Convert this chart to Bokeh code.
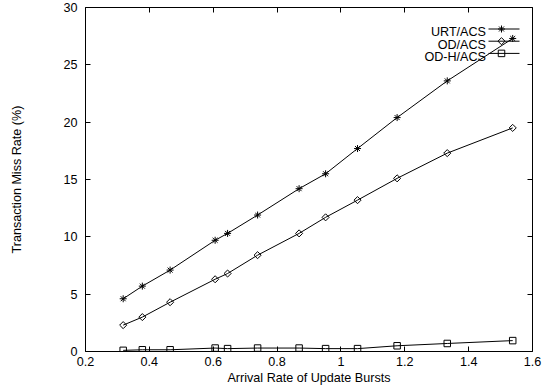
import math
from bokeh.plotting import figure
from bokeh.models import Range1d, LinearAxis, FixedTicker, Label, GlobalInlineStyleSheet
from bokeh.embed import file_html
from bokeh.resources import INLINE

# ---- data ----
rate = [0.318, 0.378, 0.465, 0.606, 0.645, 0.739, 0.869, 0.952, 1.052, 1.176, 1.333, 1.538]
urt_acs = [4.6, 5.7, 7.1, 9.7, 10.3, 11.9, 14.2, 15.5, 17.7, 20.4, 23.6, 27.3]
od_acs = [2.3, 3.0, 4.3, 6.3, 6.8, 8.4, 10.3, 11.7, 13.2, 15.1, 17.3, 19.5]
odh_acs = [0.1, 0.15, 0.15, 0.3, 0.25, 0.3, 0.3, 0.25, 0.25, 0.5, 0.7, 0.95]
series_names = ["URT/ACS", "OD/ACS", "OD-H/ACS"]
x_ticks = [0.2, 0.4, 0.6, 0.8, 1.0, 1.2, 1.4, 1.6]
x_tick_labels = ["0.2", "0.4", "0.6", "0.8", "1", "1.2", "1.4", "1.6"]
y_ticks = [0, 5, 10, 15, 20, 25, 30]
x_title = "Arrival Rate of Update Bursts"
y_title = "Transaction Miss Rate (%)"

FONT = "Liberation Sans"
FS = "12.6px"
FRAME_W, FRAME_H = 447, 344

p = figure(width=553, height=390, x_range=Range1d(0.2, 1.6), y_range=Range1d(0, 30),
           output_backend="svg", toolbar_location=None,
           min_border_left=85, min_border_right=21, min_border_top=7, min_border_bottom=39)
p.stylesheets = [GlobalInlineStyleSheet(css="html, body { margin: 0 !important; padding: 0; overflow: hidden; }")]
p.grid.visible = False
p.outline_line_color = "black"
p.outline_line_width = 1
p.outline_line_alpha = 1
p.background_fill_color = "white"
p.border_fill_color = "white"

def style_axis(ax, ticks):
    ax.ticker = FixedTicker(ticks=ticks)
    ax.major_tick_in = 5
    ax.major_tick_out = 0
    ax.major_tick_line_color = "black"
    ax.minor_tick_line_color = None
    ax.axis_line_color = None
    ax.major_label_text_font = FONT
    ax.major_label_text_font_size = FS
    ax.major_label_text_color = "black"
    ax.axis_label_text_font = FONT
    ax.axis_label_text_font_size = FS
    ax.axis_label_text_font_style = "normal"
    ax.axis_label_text_color = "black"

xa = p.xaxis[0]
style_axis(xa, x_ticks)
xa.major_label_overrides = {t: s for t, s in zip(x_ticks, x_tick_labels)}
xa.major_label_standoff = 5
xa.axis_label = x_title
xa.axis_label_standoff = 2

ya = p.yaxis[0]
style_axis(ya, y_ticks)
ya.major_label_standoff = 8
ya.axis_label = y_title
ya.axis_label_standoff = 36

top = LinearAxis()
style_axis(top, x_ticks)
top.major_label_overrides = {t: "" for t in x_ticks}
top.major_label_standoff = 0
p.add_layout(top, "above")

right = LinearAxis()
style_axis(right, y_ticks)
right.major_label_overrides = {t: "" for t in y_ticks}
right.major_label_standoff = 0
p.add_layout(right, "right")

# ---- series ----
p.line(rate, urt_acs, line_color="black", line_width=1)
p.scatter(rate, urt_acs, marker="asterisk", size=7, line_color="black", line_width=1)
p.line(rate, od_acs, line_color="black", line_width=1)
p.scatter(rate, od_acs, marker="square", angle=math.pi / 4, size=5, line_color="black",
          fill_color=None, line_width=1)
p.line(rate, odh_acs, line_color="black", line_width=1)
p.scatter(rate, odh_acs, marker="square", size=6.5, line_color="black",
          fill_color=None, line_width=1)

# ---- legend, gnuplot style: text on the left, sample on the right ----
p.extra_x_ranges = {"px": Range1d(0, FRAME_W)}
p.extra_y_ranges = {"px": Range1d(0, FRAME_H)}
key_styles = [dict(marker="asterisk", size=7, angle=0),
              dict(marker="square", size=5, angle=math.pi / 4),
              dict(marker="square", size=6.5, angle=0)]
for i, name in enumerate(series_names):
    yk = 322.5 - 12.2 * i
    p.line([403, 434], [yk, yk], line_color="black", line_width=1,
           x_range_name="px", y_range_name="px")
    p.scatter([416], [yk], line_color="black", fill_color=None, line_width=1,
              x_range_name="px", y_range_name="px", **key_styles[i])
    p.add_layout(Label(x=400.5, y=319.3 - 12.5 * i, x_units="screen", y_units="screen",
                       text=name, text_align="right", text_baseline="alphabetic",
                       text_font=FONT, text_font_size=FS, text_color="black"))

open("out.html", "w").write(file_html(p, INLINE))
